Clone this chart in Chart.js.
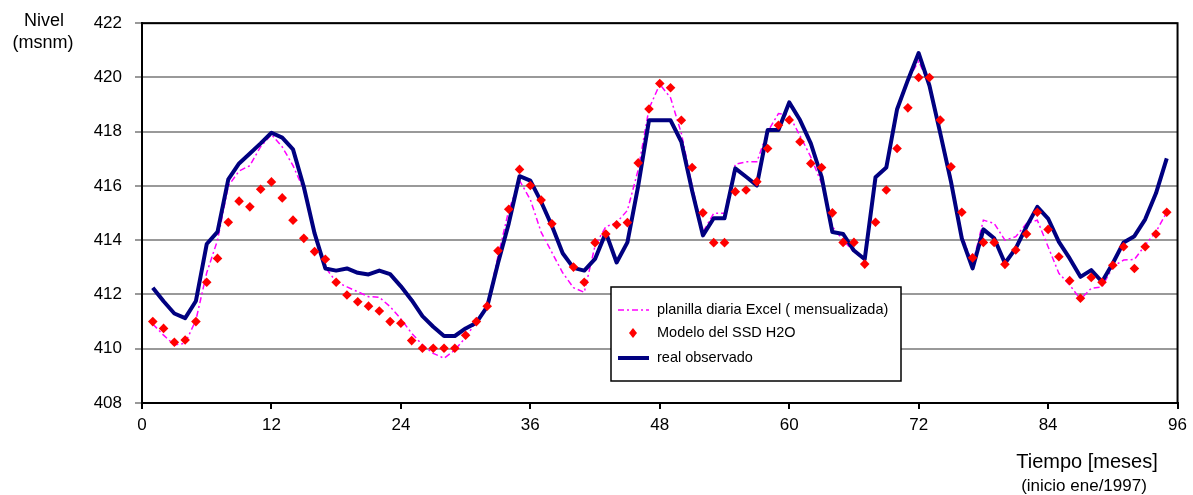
<!DOCTYPE html>
<html>
<head>
<meta charset="utf-8">
<script src="https://cdn.jsdelivr.net/npm/chart.js@4"></script>
<style>
  body { margin: 0; background: #fff; }
  #wrap { width: 1193px; height: 495px; }
</style>
</head>
<body>
<div id="wrap"><canvas id="nivelCanvas" width="1193" height="495"></canvas></div>
<script>
const meses = [1, 2, 3, 4, 5, 6, 7, 8, 9, 10, 11, 12, 13, 14, 15, 16, 17, 18, 19, 20,
    21, 22, 23, 24, 25, 26, 27, 28, 29, 30, 31, 32, 33, 34, 35, 36, 37, 38, 39, 40,
    41, 42, 43, 44, 45, 46, 47, 48, 49, 50, 51, 52, 53, 54, 55, 56, 57, 58, 59, 60,
    61, 62, 63, 64, 65, 66, 67, 68, 69, 70, 71, 72, 73, 74, 75, 76, 77, 78, 79, 80,
    81, 82, 83, 84, 85, 86, 87, 88, 89, 90, 91, 92, 93, 94, 95];

const planillaExcel = [410.91, 410.5, 410.14, 410.2, 411.06, 412.8, 414.0, 416.0, 416.55, 416.75,
    417.45, 417.9, 417.44, 416.75, 415.85, 414.3, 413.0, 412.47, 412.28, 412.1,
    411.92, 411.9, 411.55, 411.1, 410.57, 410.14, 409.83, 409.65, 409.95, 410.42,
    411.0, 411.6, 413.4, 415.1, 416.2, 415.5, 414.3, 413.55, 412.8, 412.25,
    412.08, 413.8, 414.5, 414.65, 415.1, 416.6, 418.85, 419.75, 419.25, 417.94,
    416.0, 414.3, 414.99, 414.99, 416.8, 416.89, 416.89, 418.0, 418.67, 418.61,
    417.85, 417.07, 416.1, 414.5, 414.0, 413.57, 413.3, 416.3, 416.7, 418.8,
    419.9, 420.6, 419.7, 418.0, 416.3, 414.2, 413.1, 414.74, 414.62, 414.0,
    414.13, 414.62, 414.74, 413.76, 412.78, 412.35, 411.82, 412.23, 412.28, 413.02,
    413.27, 413.29, 413.82, 414.31, 415.03];

const modeloSSD = [411.0, 410.75, 410.24, 410.32, 411.0, 412.45, 413.33, 414.66, 415.44, 415.23,
    415.88, 416.15, 415.56, 414.74, 414.07, 413.58, 413.3, 412.45, 411.98, 411.73,
    411.57, 411.39, 411.0, 410.94, 410.3, 410.02, 410.02, 410.02, 410.02, 410.5,
    411.0, 411.57, 413.61, 415.14, 416.61, 416.02, 415.48, 414.61, null, 413.01,
    412.45, 413.91, 414.23, 414.57, 414.65, 416.85, 418.84, 419.78, 419.62, 418.42,
    416.68, 415.01, 413.91, 413.91, 415.79, 415.85, 416.16, 417.38, 418.24, 418.43,
    417.63, 416.83, 416.68, 415.01, 413.92, 413.92, 413.12, 414.66, 415.85, 417.38,
    418.88, 420.0, 420.0, 418.43, 416.71, 415.03, 413.35, 413.92, 413.92, 413.11,
    413.64, 414.23, 415.03, 414.4, 413.39, 412.51, 411.86, 412.63, 412.45, 413.08,
    413.76, 412.96, 413.76, 414.23, 415.03];

const realObservado = [412.25, 411.75, 411.3, 411.13, 411.76, 413.86, 414.31, 416.24, 416.83, 417.2,
    417.57, 417.96, 417.78, 417.35, 415.97, 414.25, 412.96, 412.88, 412.96, 412.8,
    412.74, 412.88, 412.75, 412.3, 411.79, 411.2, 410.81, 410.47, 410.47, 410.75,
    410.96, 411.55, 413.15, 414.62, 416.36, 416.2, 415.42, 414.53, 413.52, 412.98,
    412.88, 413.31, 414.28, 413.18, 413.92, 416.0, 418.42, 418.42, 418.42, 417.63,
    415.82, 414.18, 414.81, 414.81, 416.65, 416.34, 416.02, 418.06, 418.06, 419.08,
    418.43, 417.57, 416.34, 414.3, 414.23, 413.62, 413.3, 416.32, 416.68, 418.83,
    419.9, 420.9, 419.7, 417.95, 416.15, 414.07, 412.96, 414.4, 414.07, 413.15,
    413.7, 414.5, 415.23, 414.8, 413.94, 413.33, 412.65, 412.9, 412.47, 413.15,
    413.92, 414.15, 414.77, 415.73, 417.02];

const ticksX = [0, 12, 24, 36, 48, 60, 72, 84, 96];
const ticksY = [408, 410, 412, 414, 416, 418, 420, 422];

const fuente = "'Liberation Sans', Arial, sans-serif";

function puntos(valores) {
    return meses.map((m, i) => ({ x: m, y: valores[i] }));
}

// marco del area de grafico + textos de ejes + leyenda dentro del grafico
const extrasPlugin = {
    id: 'extras',
    afterDraw(chart) {
        const { ctx, chartArea: a } = chart;
        ctx.save();
        ctx.strokeStyle = '#000';
        ctx.lineWidth = 2;
        ctx.strokeRect(a.left, a.top, a.right - a.left, a.bottom - a.top);

        ctx.fillStyle = '#000';
        ctx.textAlign = 'center';
        ctx.textBaseline = 'middle';
        ctx.font = '18px ' + fuente;
        ctx.fillText('Nivel', 44, 21);
        ctx.fillText('(msnm)', 43, 43);
        ctx.font = '20px ' + fuente;
        ctx.fillText('Tiempo [meses]', 1087, 462);
        ctx.font = '17px ' + fuente;
        ctx.fillText('(inicio ene/1997)', 1084, 486);

        // leyenda
        const lx = 611, ly = 287, lw = 290, lh = 94;
        ctx.fillStyle = '#fff';
        ctx.fillRect(lx, ly, lw, lh);
        ctx.lineWidth = 1.5;
        ctx.strokeStyle = '#000';
        ctx.strokeRect(lx, ly, lw, lh);

        const filas = [
            { txt: 'planilla diaria Excel ( mensualizada)', y: 310, tipo: 'dash' },
            { txt: 'Modelo del SSD H2O', y: 333, tipo: 'punto' },
            { txt: 'real observado', y: 358, tipo: 'linea' }
        ];
        filas.forEach(f => {
            ctx.beginPath();
            if (f.tipo === 'dash') {
                ctx.strokeStyle = '#ff00ff';
                ctx.lineWidth = 1.5;
                ctx.setLineDash([6, 3, 2, 3]);
                ctx.moveTo(618, f.y);
                ctx.lineTo(649, f.y);
                ctx.stroke();
                ctx.setLineDash([]);
            } else if (f.tipo === 'linea') {
                ctx.strokeStyle = '#000080';
                ctx.lineWidth = 4;
                ctx.moveTo(618, f.y);
                ctx.lineTo(649, f.y);
                ctx.stroke();
            } else {
                ctx.fillStyle = '#ff0000';
                ctx.moveTo(633, f.y - 5);
                ctx.lineTo(637, f.y);
                ctx.lineTo(633, f.y + 5);
                ctx.lineTo(629, f.y);
                ctx.closePath();
                ctx.fill();
            }
            ctx.fillStyle = '#000';
            ctx.textAlign = 'left';
            ctx.font = '14.5px ' + fuente;
            ctx.fillText(f.txt, 657, f.y);
        });
        ctx.restore();
    }
};

document.addEventListener('DOMContentLoaded', function () {
    const ctx = document.getElementById('nivelCanvas').getContext('2d');

    new Chart(ctx, {
        type: 'line',
        data: {
            datasets: [
                {
                    label: 'planilla diaria Excel ( mensualizada)',
                    data: puntos(planillaExcel),
                    borderColor: '#ff00ff',
                    borderWidth: 1.5,
                    borderDash: [6, 3, 2, 3],
                    pointRadius: 0,
                    tension: 0,
                    order: 2
                },
                {
                    label: 'Modelo del SSD H2O',
                    data: puntos(modeloSSD),
                    showLine: false,
                    pointStyle: 'rectRot',
                    pointRadius: 4.8,
                    pointBackgroundColor: '#ff0000',
                    pointBorderWidth: 0,
                    borderColor: '#ff0000',
                    order: 0
                },
                {
                    label: 'real observado',
                    data: puntos(realObservado),
                    borderColor: '#000080',
                    borderWidth: 4,
                    borderJoinStyle: 'round',
                    pointRadius: 0,
                    tension: 0,
                    order: 1
                }
            ]
        },
        options: {
            responsive: false,
            animation: false,
            layout: { padding: { left: 0, top: 23, right: 14, bottom: 0 } },
            plugins: {
                legend: { display: false },
                tooltip: { enabled: false }
            },
            scales: {
                x: {
                    type: 'linear',
                    min: 0,
                    max: 96,
                    afterBuildTicks: s => { s.ticks = ticksX.map(v => ({ value: v })); },
                    afterFit: s => { s.height = 92; },
                    border: { color: '#000', width: 2 },
                    grid: { drawOnChartArea: false, drawTicks: true, tickLength: 6, color: '#000', lineWidth: 2 },
                    ticks: { color: '#000', padding: 6, maxRotation: 0, font: { size: 17, family: fuente } }
                },
                y: {
                    min: 408,
                    max: 422,
                    afterBuildTicks: s => { s.ticks = ticksY.map(v => ({ value: v })); },
                    afterFit: s => { s.width = 142; },
                    border: { color: '#000', width: 2 },
                    grid: { color: '#999', lineWidth: 2, tickLength: 7 },
                    ticks: { color: '#000', padding: 13, font: { size: 17, family: fuente } }
                }
            }
        },
        plugins: [extrasPlugin]
    });
});
</script>
</body>
</html>
